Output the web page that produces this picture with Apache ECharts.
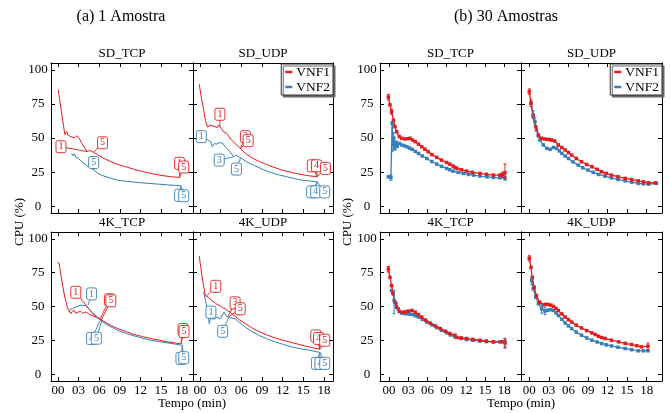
<!DOCTYPE html>
<html><head><meta charset="utf-8">
<script src="https://cdn.jsdelivr.net/npm/echarts@6/dist/echarts.min.js"></script>
<style>html,body{margin:0;padding:0;background:#fff}#c{width:670px;height:413px}</style>
</head><body><div id="c"></div>
<script>
// ---------- tick labels ----------
const xTickValues = [0, 3, 6, 9, 12, 15, 18];
const xTickLabels = ['00', '03', '06', '09', '12', '15', '18'];
const yTickValues = [0, 25, 50, 75, 100];
const panelTitles = ['SD_TCP', 'SD_UDP', '4K_TCP', '4K_UDP'];
const seriesNames = ['VNF1', 'VNF2'];

// ---------- (a) 1 Amostra ----------
const a_sdtcp_v1_x = [0.05, 0.5, 1.0, 1.3, 1.5, 1.65, 1.9, 2.1, 2.4, 2.77, 3.1, 3.5, 3.8, 4.3, 4.6, 4.8, 5.2, 6.0, 6.7, 7.7, 8.7, 10.0, 11.1, 12.3, 13.5, 15.0, 16.4, 17.7];
const a_sdtcp_v1_y = [85.3, 70.0, 52.7, 54.6, 52.0, 53.0, 51.0, 51.5, 50.0, 51.7, 49.8, 46.0, 43.6, 40.0, 41.0, 42.0, 39.5, 37.0, 35.0, 32.7, 30.6, 28.7, 27.0, 25.4, 24.0, 22.6, 21.6, 21.1];
const a_sdtcp_v2_x = [2.0, 2.2, 2.4, 2.6, 3.0, 3.4, 3.8, 4.3, 4.8, 5.2, 5.7, 6.3, 7.5, 8.7, 10.0, 11.6, 13.0, 14.5, 16.0, 17.9];
const a_sdtcp_v2_y = [38.7, 37.0, 38.5, 36.0, 35.0, 33.0, 31.4, 29.5, 28.0, 26.5, 24.5, 22.8, 20.8, 19.0, 18.2, 17.4, 16.8, 16.2, 15.6, 15.0];
const a_sdtcp_ann1 = [[4.3, 40.0, 0.45, 43.6, '1'], [5.2, 39.5, 6.5, 46.5, '5'], [17.7, 21.1, 17.7, 31.4, '1'], [17.7, 21.1, 18.3, 28.7, '5']];
const a_sdtcp_ann2 = [[5.2, 26.5, 5.2, 32.0, '5'], [17.9, 15.0, 17.7, 8.0, '1'], [17.9, 15.0, 18.3, 7.6, '5']];

const a_sdudp_v1_x = [-0.1, 0.2, 0.5, 0.8, 1.0, 1.16, 1.4, 1.74, 2.0, 2.2, 2.5, 2.7, 2.9, 3.1, 3.4, 3.9, 4.2, 4.6, 5.1, 5.6, 6.6, 7.5, 8.5, 9.7, 10.9, 12.0, 13.3, 14.5, 15.8, 17.0];
const a_sdudp_v1_y = [89.5, 80.0, 71.8, 63.0, 59.5, 57.9, 59.5, 59.0, 58.0, 58.3, 57.5, 59.5, 58.3, 57.0, 54.6, 53.4, 51.0, 48.5, 46.0, 43.6, 38.7, 35.5, 33.0, 30.4, 28.2, 26.3, 24.8, 23.4, 22.3, 21.6];
const a_sdudp_v2_x = [1.6, 1.8, 1.9, 2.1, 2.4, 2.8, 3.2, 3.4, 3.7, 4.1, 4.5, 4.9, 5.2, 5.4, 5.9, 6.8, 7.8, 9.0, 10.2, 11.4, 12.6, 13.7, 14.8, 16.0, 17.0];
const a_sdudp_v2_y = [47.3, 43.6, 44.0, 46.0, 45.5, 46.5, 46.5, 45.3, 43.5, 41.2, 39.0, 36.3, 37.5, 38.0, 35.5, 32.5, 30.1, 27.2, 24.8, 23.0, 21.6, 20.2, 19.1, 18.4, 17.9];
const a_sdudp_ann1 = [[2.9, 58.3, 2.9, 67.4, '1'], [5.9, 42.4, 6.6, 51.0, '3'], [5.9, 42.4, 7.0, 48.0, '5'], [17.0, 21.6, 16.3, 29.6, '1'], [17.0, 21.6, 16.9, 29.6, '4'], [17.0, 21.6, 18.2, 27.7, '5']];
const a_sdudp_ann2 = [[1.6, 47.3, 0.2, 51.0, '1'], [4.9, 36.3, 2.8, 33.8, '3'], [5.9, 35.5, 5.3, 27.2, '5'], [17.0, 17.9, 16.2, 10.5, '1'], [17.0, 17.9, 16.8, 10.5, '4'], [17.0, 17.9, 18.1, 10.5, '5']];

const a_4ktcp_v1_x = [0.0, 0.2, 0.45, 0.7, 1.0, 1.2, 1.4, 1.6, 1.9, 2.1, 2.4, 2.6, 2.9, 3.1, 3.3, 3.6, 3.8, 4.1, 4.3, 4.6, 4.8, 5.5, 6.7, 7.7, 8.7, 10.0, 11.1, 12.3, 13.5, 14.8, 16.0, 17.9];
const a_4ktcp_v1_y = [83.0, 81.3, 73.0, 65.4, 57.0, 53.0, 49.0, 47.0, 44.7, 46.5, 47.0, 45.0, 45.8, 47.0, 46.3, 45.0, 44.7, 46.0, 47.0, 44.0, 43.4, 42.2, 39.0, 36.0, 33.7, 31.3, 29.3, 27.8, 26.4, 25.0, 23.9, 22.4];
const a_4ktcp_v2_x = [1.6, 1.8, 2.1, 2.3, 2.6, 2.8, 3.1, 3.3, 3.6, 3.8, 4.1, 4.3, 4.6, 5.0, 5.8, 6.7, 7.7, 8.7, 10.0, 11.1, 12.3, 13.5, 14.8, 16.0, 17.1, 18.1];
const a_4ktcp_v2_y = [45.8, 48.0, 48.3, 47.0, 49.5, 48.5, 50.7, 50.0, 51.0, 52.0, 50.5, 49.5, 47.5, 45.5, 42.2, 38.0, 35.0, 32.4, 30.0, 28.3, 26.6, 25.1, 24.0, 23.1, 22.2, 21.4];
const a_4ktcp_ann1 = [[5.5, 42.2, 2.6, 60.5, '1'], [6.1, 40.5, 7.5, 55.0, '5'], [6.3, 40.0, 7.7, 54.2, '5'], [17.9, 22.4, 18.2, 33.0, '5'], [17.9, 22.4, 18.35, 31.5, '5']];
const a_4ktcp_ann2 = [[4.4, 51.0, 4.9, 59.3, '1'], [6.2, 40.0, 4.9, 26.3, '4'], [6.4, 39.5, 5.6, 26.6, '5'], [18.1, 21.4, 17.9, 11.7, '1'], [18.1, 21.4, 18.3, 12.2, '5']];

const a_4kudp_v1_x = [-0.1, 0.1, 0.3, 0.5, 0.7, 0.8, 1.0, 1.26, 1.5, 1.7, 2.0, 2.2, 2.5, 2.9, 3.3, 3.7, 4.0, 4.4, 4.8, 5.1, 5.8, 6.6, 7.5, 8.5, 9.7, 10.9, 12.1, 13.3, 14.5, 15.8, 17.4];
const a_4kudp_v1_y = [87.3, 80.0, 72.7, 66.0, 60.5, 58.0, 57.5, 56.8, 55.5, 54.4, 53.5, 52.7, 51.5, 50.7, 49.0, 48.3, 47.0, 45.8, 44.0, 42.9, 40.0, 37.3, 34.3, 31.7, 29.0, 26.8, 25.0, 23.4, 21.8, 20.2, 18.5];
const a_4kudp_v2_x = [0.54, 0.8, 1.0, 1.2, 1.35, 1.5, 1.7, 1.95, 2.2, 2.45, 2.7, 2.95, 3.2, 3.5, 3.8, 4.2, 4.6, 5.1, 5.8, 6.6, 7.5, 8.5, 9.7, 10.9, 12.1, 13.3, 14.5, 15.8, 17.4];
const a_4kudp_v2_y = [60.5, 55.0, 49.5, 44.0, 37.3, 40.0, 42.2, 40.5, 39.7, 42.0, 43.4, 41.0, 41.0, 45.8, 43.0, 42.2, 41.5, 41.0, 38.0, 34.8, 31.7, 28.8, 26.2, 23.9, 22.0, 20.2, 18.9, 17.8, 16.1];
const a_4kudp_ann1 = [[0.9, 57.5, 2.3, 64.9, '1'], [4.1, 43.0, 5.1, 52.7, '3'], [4.2, 42.5, 5.85, 48.3, '5'], [17.4, 18.5, 16.8, 28.3, '1'], [17.4, 18.5, 17.2, 26.4, '4'], [17.4, 18.5, 18.1, 25.1, '5']];
const a_4kudp_ann2 = [[1.2, 47.0, 1.6, 45.8, '1'], [4.2, 42.2, 3.3, 31.7, '5'], [17.4, 16.1, 16.9, 8.0, '1'], [17.4, 16.1, 17.4, 8.0, '4'], [17.4, 16.1, 18.1, 8.0, '5']];

// ---------- (b) 30 Amostras ----------
const b_sdtcp_v1_x = [-0.1, 0.16, 0.4, 0.7, 0.94, 1.2, 1.6, 2.0, 2.5, 3.0, 3.3, 3.7, 4.1, 4.6, 5.1, 5.6, 6.1, 6.7, 7.45, 8.2, 9.0, 9.5, 10.0, 10.3, 10.6, 11.3, 12.1, 13.0, 14.2, 15.2, 16.3, 17.3, 17.7, 18.1];
const b_sdtcp_v1_y = [80.0, 74.3, 69.3, 63.0, 58.3, 54.6, 51.0, 49.8, 49.3, 49.5, 49.8, 48.5, 47.3, 45.5, 43.6, 41.8, 40.0, 37.8, 35.8, 33.8, 32.0, 30.8, 29.4, 28.5, 27.7, 26.7, 25.7, 24.8, 24.0, 23.4, 22.8, 22.8, 23.0, 24.5];
const b_sdtcp_v2_x = [-0.1, 0.3, 0.5, 0.6, 0.75, 0.9, 1.1, 1.3, 1.6, 2.0, 2.4, 2.8, 3.2, 3.6, 4.1, 4.6, 5.2, 5.9, 6.7, 7.45, 8.2, 9.0, 9.5, 10.0, 10.8, 11.6, 12.4, 13.2, 14.2, 15.3, 16.3, 17.3, 18.1];
const b_sdtcp_v2_y = [21.5, 21.0, 60.8, 45.0, 50.0, 42.0, 47.0, 44.0, 46.0, 44.9, 44.2, 43.6, 42.6, 41.7, 40.2, 38.7, 36.8, 35.0, 32.8, 30.9, 29.2, 27.7, 26.7, 25.7, 24.8, 24.0, 23.3, 22.8, 22.1, 21.5, 21.1, 20.8, 20.8];
const b_sdtcp_err1 = [[-0.1, 78.0, 82.0], [0.4, 67.5, 71.0], [17.7, 21.0, 25.0], [18.1, 20.0, 31.0]];
const b_sdtcp_err2 = [[0.3, 19.0, 23.0], [0.5, 40.0, 62.0], [0.75, 45.0, 54.0], [18.1, 19.0, 23.0]];

const b_sdudp_v1_x = [0.0, 0.26, 0.6, 1.0, 1.4, 1.9, 2.3, 2.7, 3.1, 3.4, 3.9, 4.45, 5.0, 5.5, 6.0, 6.5, 7.2, 8.0, 8.8, 9.6, 10.4, 11.1, 11.8, 12.6, 13.6, 14.7, 15.7, 16.7, 17.5, 18.3, 19.3];
const b_sdudp_v1_y = [84.0, 75.5, 65.7, 58.3, 52.2, 49.8, 49.3, 49.0, 48.8, 48.5, 47.8, 44.9, 43.0, 41.2, 39.3, 37.5, 35.0, 32.6, 30.6, 28.9, 27.0, 25.2, 24.0, 22.8, 21.6, 20.4, 19.5, 18.6, 17.8, 17.1, 17.1];
const b_sdudp_v2_x = [0.26, 0.6, 0.87, 1.1, 1.4, 1.64, 2.15, 2.7, 3.2, 3.7, 4.2, 4.6, 5.0, 5.5, 6.0, 6.7, 7.5, 8.2, 9.0, 9.8, 10.6, 11.6, 12.6, 13.6, 14.7, 15.7, 16.7, 17.5, 18.3, 19.5];
const b_sdudp_v2_y = [75.5, 67.0, 62.0, 55.9, 51.5, 48.5, 44.9, 42.4, 41.7, 43.1, 42.4, 40.5, 38.7, 36.8, 35.0, 32.5, 30.1, 28.2, 26.5, 24.8, 23.3, 22.0, 20.8, 19.6, 18.6, 17.6, 16.7, 16.4, 16.2, 16.7];
const b_sdudp_err1 = [[0.0, 82.0, 86.0], [0.26, 73.0, 78.0]];
const b_sdudp_err2 = [[0.6, 64.0, 70.0], [0.87, 59.0, 65.0]];

const b_4ktcp_v1_x = [-0.1, 0.16, 0.4, 0.67, 0.94, 1.2, 1.6, 2.2, 2.6, 3.0, 3.6, 4.1, 4.6, 5.1, 5.7, 6.4, 7.2, 8.0, 8.8, 9.5, 10.3, 10.6, 11.3, 12.1, 13.1, 14.2, 15.2, 16.3, 17.6, 18.1];
const b_4ktcp_v1_y = [77.6, 71.5, 65.4, 59.3, 53.1, 49.5, 46.3, 45.8, 46.0, 46.6, 47.1, 45.8, 44.0, 42.2, 40.0, 37.8, 35.7, 33.7, 31.8, 30.0, 28.8, 27.1, 26.8, 26.4, 25.7, 25.1, 24.5, 23.9, 23.9, 23.1];
const b_4ktcp_v2_x = [0.4, 0.6, 0.8, 1.1, 1.45, 2.0, 2.4, 2.8, 3.2, 3.6, 4.1, 4.6, 5.2, 5.9, 6.7, 7.45, 8.2, 9.0, 9.6, 10.3, 11.2, 12.1, 13.1, 14.2, 15.2, 16.3, 17.3, 18.1];
const b_4ktcp_v2_y = [61.7, 60.0, 54.4, 52.0, 48.3, 45.1, 44.9, 44.7, 44.4, 44.1, 43.2, 42.2, 40.5, 38.5, 36.4, 34.4, 32.4, 30.5, 29.0, 27.5, 26.5, 25.6, 25.0, 24.4, 24.1, 23.9, 23.9, 23.9];
const b_4ktcp_err1 = [[-0.1, 75.5, 79.5], [18.1, 20.0, 26.0]];
const b_4ktcp_err2 = [[0.8, 44.7, 61.7], [18.1, 19.2, 26.5]];

const b_4kudp_v1_x = [0.0, 0.26, 0.46, 0.77, 1.1, 1.6, 2.15, 2.5, 2.9, 3.3, 3.7, 4.1, 4.45, 5.0, 5.5, 6.0, 6.5, 7.2, 8.0, 8.8, 9.6, 10.1, 10.6, 11.1, 11.6, 12.6, 13.7, 14.7, 15.7, 16.5, 17.2, 18.2];
const b_4kudp_v1_y = [85.6, 78.8, 71.5, 64.1, 58.0, 53.1, 51.2, 51.6, 51.5, 51.0, 50.0, 48.6, 47.0, 44.5, 42.2, 40.3, 38.5, 36.2, 34.1, 32.2, 30.5, 29.3, 28.0, 27.1, 26.4, 25.1, 23.9, 22.8, 21.9, 21.0, 20.2, 20.7];
const b_4kudp_v2_x = [0.37, 0.6, 1.0, 1.4, 1.9, 2.4, 2.8, 3.2, 3.7, 4.1, 4.45, 5.0, 5.5, 6.0, 6.5, 7.2, 8.0, 8.8, 9.6, 10.4, 11.1, 11.8, 12.6, 13.6, 14.7, 15.7, 16.7, 17.5, 18.2];
const b_4kudp_v2_y = [69.0, 63.0, 56.8, 52.0, 48.3, 46.6, 47.2, 47.6, 47.1, 45.3, 43.4, 40.5, 37.8, 35.7, 33.7, 31.1, 28.8, 26.8, 25.1, 23.8, 22.7, 21.7, 20.9, 19.9, 19.0, 18.1, 17.3, 17.3, 17.3];
const b_4kudp_err1 = [[0.0, 83.5, 87.5], [18.2, 18.3, 23.0]];
const b_4kudp_err2 = [[0.37, 66.0, 71.0], [1.9, 45.0, 51.5], [2.4, 44.0, 49.5]];

// ---------- styling / layout ----------
const FONT = '"Liberation Serif","DejaVu Serif",serif';
const RED = '#e41a1c', BLUE = '#377eb8';
const zip = (xs, ys) => xs.map((x, i) => [x, ys[i]]);

const panels = [
  {left: 51, top: 63, width: 142, height: 150, xmin: -1, xmax: 19.65, yl: true, xl: false, t: 0, kind: 'a',
   d: [a_sdtcp_v1_x, a_sdtcp_v1_y, a_sdtcp_v2_x, a_sdtcp_v2_y, a_sdtcp_ann1, a_sdtcp_ann2]},
  {left: 193, top: 63, width: 140, height: 150, xmin: -1, xmax: 19.3, yl: false, xl: false, t: 1, kind: 'a',
   d: [a_sdudp_v1_x, a_sdudp_v1_y, a_sdudp_v2_x, a_sdudp_v2_y, a_sdudp_ann1, a_sdudp_ann2]},
  {left: 51, top: 232, width: 142, height: 149, xmin: -1, xmax: 19.65, yl: true, xl: true, t: 2, kind: 'a',
   d: [a_4ktcp_v1_x, a_4ktcp_v1_y, a_4ktcp_v2_x, a_4ktcp_v2_y, a_4ktcp_ann1, a_4ktcp_ann2]},
  {left: 193, top: 232, width: 140, height: 149, xmin: -1, xmax: 19.3, yl: false, xl: true, t: 3, kind: 'a',
   d: [a_4kudp_v1_x, a_4kudp_v1_y, a_4kudp_v2_x, a_4kudp_v2_y, a_4kudp_ann1, a_4kudp_ann2]},
  {left: 380, top: 63, width: 141, height: 150, xmin: -1.4, xmax: 20.6, yl: true, xl: false, t: 0, kind: 'b',
   d: [b_sdtcp_v1_x, b_sdtcp_v1_y, b_sdtcp_v2_x, b_sdtcp_v2_y, b_sdtcp_err1, b_sdtcp_err2]},
  {left: 521, top: 63, width: 141, height: 150, xmin: -1.27, xmax: 20.35, yl: false, xl: false, t: 1, kind: 'b',
   d: [b_sdudp_v1_x, b_sdudp_v1_y, b_sdudp_v2_x, b_sdudp_v2_y, b_sdudp_err1, b_sdudp_err2]},
  {left: 380, top: 232, width: 141, height: 149, xmin: -1.4, xmax: 20.6, yl: true, xl: true, t: 2, kind: 'b',
   d: [b_4ktcp_v1_x, b_4ktcp_v1_y, b_4ktcp_v2_x, b_4ktcp_v2_y, b_4ktcp_err1, b_4ktcp_err2]},
  {left: 521, top: 232, width: 141, height: 149, xmin: -1.27, xmax: 20.35, yl: false, xl: true, t: 3, kind: 'b',
   d: [b_4kudp_v1_x, b_4kudp_v1_y, b_4kudp_v2_x, b_4kudp_v2_y, b_4kudp_err1, b_4kudp_err2]}
];

const N = panels.length;
const grids = [], xAxes = [], yAxes = [], series = [], graphics = [];
const axLine = {show: true, onZero: false, lineStyle: {color: '#000', width: 1}};
function ticks(vals) { return {show: true, inside: true, length: 4, customValues: vals, lineStyle: {color: '#000', width: 1}}; }

function annSeries(list, color, i) {
  return {
    type: 'custom', xAxisIndex: i, yAxisIndex: i, clip: false, z: 5, silent: true,
    data: list.map(a => [a[0], a[1], a[2], a[3]]),
    encode: {x: [0, 2], y: [1, 3]},
    renderItem: function (params, api) {
      const p = api.coord([api.value(0), api.value(1)]);
      const l = api.coord([api.value(2), api.value(3)]);
      const t = list[params.dataIndex][4];
      return {type: 'group', children: [
        {type: 'line', shape: {x1: p[0], y1: p[1], x2: l[0], y2: l[1]}, style: {stroke: color, lineWidth: 0.9}},
        {type: 'rect', shape: {x: l[0] - 5, y: l[1] - 6, width: 10, height: 12, r: 2}, style: {fill: '#fff', stroke: color, lineWidth: 0.9}},
        {type: 'text', x: l[0], y: l[1], style: {text: t, fill: color, font: '10px ' + FONT, align: 'center', verticalAlign: 'middle', textAlign: 'center', textVerticalAlign: 'middle'}}
      ]};
    }
  };
}
function errSeries(list, color, i) {
  return {
    type: 'custom', xAxisIndex: i, yAxisIndex: i, z: 4, silent: true,
    data: list, encode: {x: 0, y: [1, 2]},
    renderItem: function (params, api) {
      const a = api.coord([api.value(0), api.value(1)]);
      const b = api.coord([api.value(0), api.value(2)]);
      const st = {stroke: color, lineWidth: 1};
      return {type: 'group', children: [
        {type: 'line', shape: {x1: a[0], y1: a[1], x2: b[0], y2: b[1]}, style: st},
        {type: 'line', shape: {x1: a[0] - 1.5, y1: a[1], x2: a[0] + 1.5, y2: a[1]}, style: st},
        {type: 'line', shape: {x1: b[0] - 1.5, y1: b[1], x2: b[0] + 1.5, y2: b[1]}, style: st}
      ]};
    }
  };
}

panels.forEach((p, i) => {
  grids.push({left: p.left, top: p.top, width: p.width, height: p.height, containLabel: false, show: false});
  const xBase = {type: 'value', gridIndex: i, min: p.xmin, max: p.xmax, splitLine: {show: false}, axisLine: axLine, axisTick: ticks(xTickValues)};
  const yBase = {type: 'value', gridIndex: i, min: -5, max: 105, splitLine: {show: false}, axisLine: axLine, axisTick: ticks(yTickValues)};
  xAxes[i] = Object.assign({}, xBase, {position: 'bottom', axisLabel: {show: p.xl, customValues: xTickValues, formatter: v => xTickLabels[xTickValues.indexOf(v)], fontFamily: FONT, fontSize: 13, color: '#000', margin: 3}});
  xAxes[i + N] = Object.assign({}, xBase, {position: 'top', axisLabel: {show: false}});
  yAxes[i] = Object.assign({}, yBase, {position: 'left', axisLabel: {show: p.yl, customValues: yTickValues, fontFamily: FONT, fontSize: 13, color: '#000', align: 'center', margin: 13}});
  yAxes[i + N] = Object.assign({}, yBase, {position: 'right', axisLabel: {show: false}});

  const d = p.d;
  if (p.kind === 'a') {
    series.push({type: 'line', name: seriesNames[1], xAxisIndex: i, yAxisIndex: i, data: zip(d[2], d[3]), symbol: 'none', showSymbol: false, lineStyle: {width: 1, color: BLUE}, itemStyle: {color: BLUE}, z: 2});
    series.push({type: 'line', name: seriesNames[0], xAxisIndex: i, yAxisIndex: i, data: zip(d[0], d[1]), symbol: 'none', showSymbol: false, lineStyle: {width: 1, color: RED}, itemStyle: {color: RED}, z: 3});
    series.push(annSeries(d[5], BLUE, i));
    series.push(annSeries(d[4], RED, i));
  } else {
    series.push({type: 'line', name: seriesNames[1], xAxisIndex: i, yAxisIndex: i, data: zip(d[2], d[3]), symbol: 'rect', symbolSize: 3.5, showSymbol: true, lineStyle: {width: 1.3, color: BLUE}, itemStyle: {color: BLUE}, z: 2});
    series.push(errSeries(d[5], BLUE, i));
    series.push({type: 'line', name: seriesNames[0], xAxisIndex: i, yAxisIndex: i, data: zip(d[0], d[1]), symbol: 'rect', symbolSize: 3.5, showSymbol: true, lineStyle: {width: 1.3, color: RED}, itemStyle: {color: RED}, z: 3});
    series.push(errSeries(d[4], RED, i));
  }

  graphics.push({type: 'text', x: p.left + p.width / 2, y: p.top - 9,
    style: {text: panelTitles[p.t], font: '13px ' + FONT, fill: '#000', align: 'center', verticalAlign: 'middle', textAlign: 'center', textVerticalAlign: 'middle'}});
});

const txt = (text, x, y, size, rot) => ({type: 'text', x: x, y: y, rotation: rot || 0,
  style: {text: text, font: size + 'px ' + FONT, fill: '#000', align: 'center', verticalAlign: 'middle', textAlign: 'center', textVerticalAlign: 'middle'}});
graphics.push(txt('(a) 1 Amostra', 121, 17, 16));
graphics.push(txt('(b) 30 Amostras', 506, 17, 16));
graphics.push(txt('CPU (%)', 20, 222, 13, Math.PI / 2));
graphics.push(txt('CPU (%)', 348, 222, 13, Math.PI / 2));
graphics.push(txt('Tempo (min)', 192, 404, 13));
graphics.push(txt('Tempo (min)', 521, 404, 13));

const legendBase = {orient: 'vertical', top: 64, icon: 'rect', itemWidth: 7, itemHeight: 2.5, itemGap: 1,
  data: seriesNames, textStyle: {fontFamily: FONT, fontSize: 13.5, color: '#000', padding: [0, 0, 0, -1]},
  padding: [1, 3, 1, 4], borderColor: '#333', borderWidth: 1, backgroundColor: '#fff',
  shadowColor: '#666', shadowBlur: 0, shadowOffsetX: 2, shadowOffsetY: 2, selectedMode: false};

const chart = echarts.init(document.getElementById('c'), null, {renderer: 'canvas'});
chart.setOption({
  animation: false,
  backgroundColor: '#fff',
  grid: grids, xAxis: xAxes, yAxis: yAxes, series: series,
  legend: [Object.assign({}, legendBase, {right: 670 - 333}), Object.assign({}, legendBase, {right: 670 - 662})],
  graphic: graphics
});
</script></body></html>
